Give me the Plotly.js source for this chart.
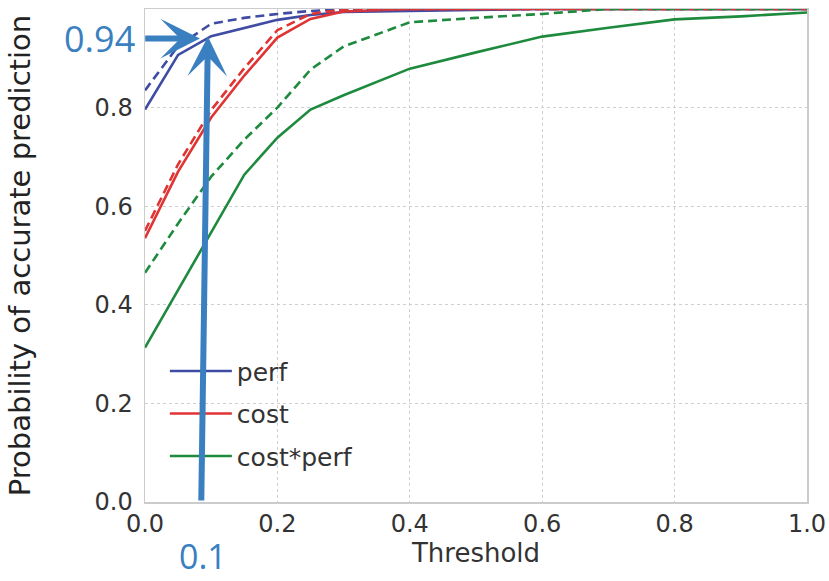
<!DOCTYPE html>
<html>
<head>
<meta charset="utf-8">
<script src="https://cdn.plot.ly/plotly-3.0.1.min.js"></script>
<style>html,body{margin:0;padding:0;background:#fff;}#chart{width:829px;height:581px;}</style>
</head>
<body>
<div id="chart"></div>
<script>
// Thresholds (x)
const thresholds = [0, 0.05, 0.1, 0.15, 0.2, 0.25, 0.3, 0.4, 0.5, 0.6, 0.7, 0.8, 0.9, 1.0];
// Solid lines
const perfSolid     = [0.796, 0.907, 0.945, 0.962, 0.978, 0.988, 0.994, 0.996, 0.998, 1.0, 1.0, 1.0, 1.0, 1.0];
const costSolid     = [0.535, 0.670, 0.780, 0.865, 0.942, 0.980, 0.995, 1.0, 1.0, 1.0, 1.0, 1.0, 1.0, 1.0];
const costPerfSolid = [0.313, 0.430, 0.547, 0.664, 0.739, 0.796, 0.825, 0.879, 0.912, 0.944, 0.962, 0.979, 0.985, 0.993];
// Dashed lines
const perfDashed     = [0.835, 0.925, 0.970, 0.982, 0.990, 0.996, 0.999, 1.0, 1.0, 1.0, 1.0, 1.0, 1.0, 1.0];
const costDashed     = [0.550, 0.685, 0.795, 0.880, 0.957, 0.990, 0.999, 1.0, 1.0, 1.0, 1.0, 1.0, 1.0, 1.0];
const costPerfDashed = [0.465, 0.565, 0.660, 0.735, 0.800, 0.877, 0.924, 0.973, 0.982, 0.990, 1.0, 1.0, 1.0, 1.0];

const seriesNames = ['perf', 'cost', 'cost*perf'];
const tickVals = [0, 0.2, 0.4, 0.6, 0.8];
const xTickVals = [0, 0.2, 0.4, 0.6, 0.8, 1.0];

// Highlight annotation values
const hiLabelY = '0.94';
const hiLabelX = '0.1';
const hiPointH = [0.083, 0.94];   // horizontal arrow tip
const hiTailH  = [-0.002, 0.94];  // horizontal arrow tail
const hiPointV = [0.095, 0.944];  // vertical arrow tip
const hiTailV  = [0.085, 0.0];    // vertical arrow tail

const colors = ['#3f4ca3', '#e03434', '#1e8a3e'];
const hiColor = '#3a7fbf';

const solids = [perfSolid, costSolid, costPerfSolid];
const dashes = [perfDashed, costDashed, costPerfDashed];

const traces = [];
for (let i = 0; i < 3; i++) {
  traces.push({
    x: thresholds, y: solids[i], type: 'scatter', mode: 'lines',
    name: seriesNames[i], legendgroup: 'g' + i,
    line: {color: colors[i], width: 2.6}
  });
}
for (let i = 0; i < 3; i++) {
  traces.push({
    x: thresholds, y: dashes[i], type: 'scatter', mode: 'lines',
    name: seriesNames[i] + ' (dashed)', legendgroup: 'g' + i, showlegend: false,
    line: {color: colors[i], width: 2.6, dash: '9px,5px'}
  });
}

const font = 'DejaVu Sans, Verdana, sans-serif';
const layout = {
  width: 829, height: 581,
  margin: {l: 145, r: 22, t: 9, b: 79},
  paper_bgcolor: '#ffffff', plot_bgcolor: '#ffffff',
  showlegend: true,
  legend: {
    x: 0.03, y: 0.312, xanchor: 'left', yanchor: 'top',
    bgcolor: 'rgba(0,0,0,0)', borderwidth: 0,
    font: {family: font, size: 25, color: '#333333'},
    itemwidth: 62, tracegroupgap: 7, traceorder: 'grouped'
  },
  xaxis: {
    range: [0, 1.0], tickvals: xTickVals, ticktext: xTickVals.map(v => v.toFixed(1)),
    showgrid: true, gridcolor: '#cfcfcf', griddash: 'dot', gridwidth: 1,
    showline: true, mirror: true, linecolor: '#cccccc', linewidth: 1.5,
    zeroline: false, ticks: '',
    tickfont: {family: font, size: 24, color: '#333333'},
    title: {text: 'Threshold', font: {family: font, size: 26, color: '#333333'}, standoff: 6}
  },
  yaxis: {
    range: [0, 1.0], tickvals: tickVals, ticktext: tickVals.map(v => v.toFixed(1)),
    showgrid: true, gridcolor: '#cfcfcf', griddash: 'dot', gridwidth: 1,
    showline: true, mirror: true, linecolor: '#cccccc', linewidth: 1.5,
    zeroline: false, ticks: '', ticklabelstandoff: 6,
    tickfont: {family: font, size: 24, color: '#333333'},
    title: {text: 'Probability of accurate prediction', font: {family: font, size: 29, color: '#222222'}, standoff: 55}
  },
  annotations: [
    {
      text: '', showarrow: true,
      x: hiPointH[0], y: hiPointH[1], xref: 'x', yref: 'y',
      ax: hiTailH[0], ay: hiTailH[1], axref: 'x', ayref: 'y',
      arrowcolor: hiColor, arrowwidth: 6, arrowhead: 3, arrowsize: 1.1
    },
    {
      text: '', showarrow: true,
      x: hiPointV[0], y: hiPointV[1], xref: 'x', yref: 'y',
      ax: hiTailV[0], ay: hiTailV[1], axref: 'x', ayref: 'y',
      arrowcolor: hiColor, arrowwidth: 6, arrowhead: 3, arrowsize: 1.1
    },
    {
      text: hiLabelY, showarrow: false,
      xref: 'paper', x: -0.068, yref: 'y', y: 0.94,
      xanchor: 'center', yanchor: 'middle',
      font: {family: 'Open Sans, sans-serif', size: 36, color: hiColor}
    },
    {
      text: hiLabelX, showarrow: false,
      xref: 'x', x: 0.088, yref: 'paper', y: -0.11,
      xanchor: 'center', yanchor: 'middle', borderpad: 0,
      font: {family: 'Open Sans, sans-serif', size: 34, color: hiColor}
    }
  ]
};

Plotly.newPlot('chart', traces, layout, {displayModeBar: false, staticPlot: true});
</script>
</body>
</html>
